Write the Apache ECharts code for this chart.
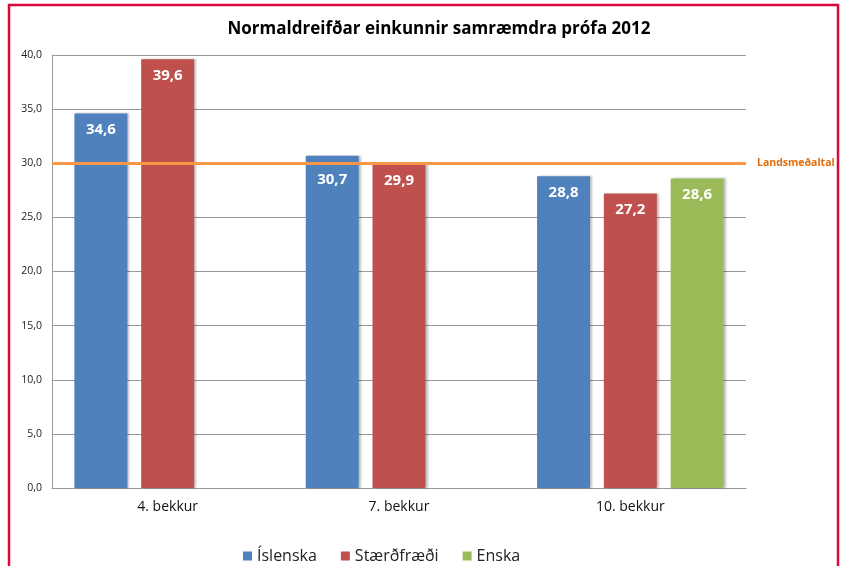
<!DOCTYPE html>
<html><head><meta charset="utf-8">
<script src="https://cdn.jsdelivr.net/npm/echarts@6/dist/echarts.min.js"></script>
<style>html,body{margin:0;padding:0;background:#fff}#c{width:841px;height:566px}</style>
</head><body><div id="c"></div>
<script>
const categories = ['4. bekkur', '7. bekkur', '10. bekkur'];
const islenska = [34.6, 30.7, 28.8];
const staerdfraedi = [39.6, 29.9, 27.2];
const enska = [null, null, 28.6];
const landsmedaltal = 30;
const yTicks = [0, 5, 10, 15, 20, 25, 30, 35, 40];

const fmt = v => v.toFixed(1).replace('.', ',');
const FONT = '"Open Sans", "Noto Sans", sans-serif';
const label = {
  show: true, position: 'insideTop', distance: 9, color: '#fff', fontWeight: 'bold',
  fontSize: 15, fontFamily: FONT, formatter: p => p.value == null ? '' : fmt(p.value)
};
const shadow = { shadowColor: 'rgba(0,0,0,0.25)', shadowBlur: 2, shadowOffsetX: 2, shadowOffsetY: 0 };

// the label of the 7. bekkur Íslenska bar sits lower (below the average line) in the original
const islenskaData = islenska.map((v, i) => i === 1 ? { value: v, label: { offset: [0, 8] } } : v);

const chart = echarts.init(document.getElementById('c'), null, { renderer: 'canvas' });
chart.setOption({
  animation: false,
  backgroundColor: '#fff',
  title: {
    text: 'Normaldreifðar einkunnir samræmdra prófa 2012', left: 434, top: 16, textAlign: 'center',
    textStyle: { fontSize: 17, fontWeight: 'bold', color: '#000', fontFamily: FONT }
  },
  graphic: [{
    type: 'rect', silent: true, z: 100,
    shape: { x: 9, y: 5, width: 829, height: 620 },
    style: { fill: 'none', stroke: '#D9093C', lineWidth: 2.5 }
  }],
  legend: {
    top: 543, left: 238, icon: 'rect', itemWidth: 9, itemHeight: 9, itemGap: 24,
    textStyle: { fontSize: 16, color: '#222', fontFamily: FONT }
  },
  grid: { left: 52, right: 95, top: 55, bottom: 78, containLabel: false },
  xAxis: {
    type: 'category', data: categories,
    axisLine: { lineStyle: { color: '#999' } }, axisTick: { show: false },
    axisLabel: { fontSize: 14, color: '#111', margin: 12, fontFamily: FONT }
  },
  yAxis: {
    type: 'value', min: yTicks[0], max: yTicks[yTicks.length - 1], interval: 5,
    axisLine: { show: true, lineStyle: { color: '#999' } }, axisTick: { show: false },
    axisLabel: { fontSize: 10.5, color: '#222', margin: 10, fontFamily: FONT, formatter: v => fmt(v) },
    splitLine: { lineStyle: { color: '#999' } }
  },
  series: [
    { name: 'Íslenska', type: 'bar', data: islenskaData, barWidth: 53, barGap: '26%',
      itemStyle: Object.assign({ color: '#4F81BD' }, shadow), label,
      markLine: {
        silent: true, symbol: 'none', z: 10,
        data: [{ yAxis: landsmedaltal }],
        lineStyle: { color: '#F79646', width: 3, type: 'solid' },
        label: { show: true, position: 'end', distance: 11, formatter: 'Landsmeðaltal',
          color: '#E46C0A', fontWeight: 'bold', fontSize: 10.5, fontFamily: FONT }
      } },
    { name: 'Stærðfræði', type: 'bar', data: staerdfraedi, barWidth: 53, barGap: '26%',
      itemStyle: Object.assign({ color: '#C0504D' }, shadow), label },
    { name: 'Enska', type: 'bar', data: enska, barWidth: 53, barGap: '26%',
      itemStyle: Object.assign({ color: '#9BBB59' }, shadow), label }
  ]
});
</script></body></html>
